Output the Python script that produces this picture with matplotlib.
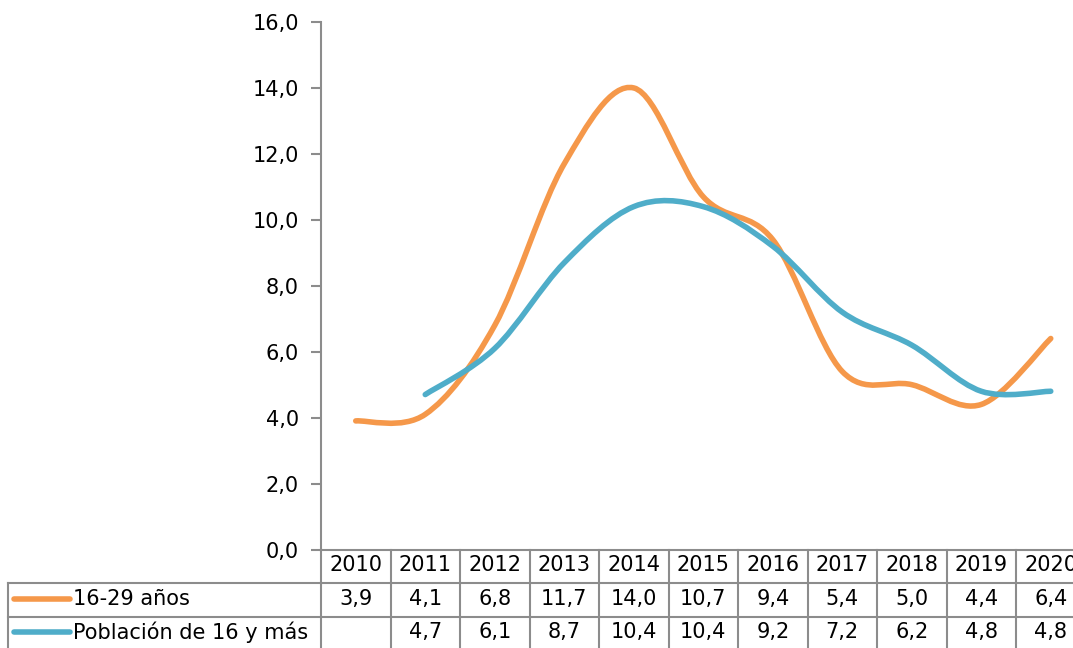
import matplotlib
matplotlib.use("Agg")
from matplotlib import pyplot as plt
from matplotlib.path import Path
from matplotlib.patches import PathPatch
from matplotlib.lines import Line2D
from matplotlib.ticker import FuncFormatter, MultipleLocator
from matplotlib.transforms import blended_transform_factory

years = ["2010", "2011", "2012", "2013", "2014", "2015", "2016", "2017", "2018", "2019", "2020"]
jovenes = [3.9, 4.1, 6.8, 11.7, 14.0, 10.7, 9.4, 5.4, 5.0, 4.4, 6.4]
poblacion = [None, 4.7, 6.1, 8.7, 10.4, 10.4, 9.2, 7.2, 6.2, 4.8, 4.8]
names = ["16-29 años", "Población de 16 y más"]
colors = ["#F5984A", "#4FADC9"]

W, H = 1073, 648
GRID = "#8C8C8C"
FS = 15


def px(x):
    return x / W


def py(y):
    return 1 - y / H


def comma(v, pos=None):
    return ("%.1f" % v).replace(".", ",")


def smooth_path(xs, ys):
    # curva suavizada tipo Excel (Catmull-Rom -> Bezier)
    pts = list(zip(xs, ys))
    verts = [pts[0]]
    codes = [Path.MOVETO]
    n = len(pts)
    for i in range(n - 1):
        p0 = pts[i - 1] if i > 0 else pts[i]
        p1 = pts[i]
        p2 = pts[i + 1]
        p3 = pts[i + 2] if i + 2 < n else pts[i + 1]
        c1 = (p1[0] + (p2[0] - p0[0]) / 6, p1[1] + (p2[1] - p0[1]) / 6)
        c2 = (p2[0] - (p3[0] - p1[0]) / 6, p2[1] - (p3[1] - p1[1]) / 6)
        verts += [c1, c2, p2]
        codes += [Path.CURVE4] * 3
    return Path(verts, codes)


fig = plt.figure(figsize=(W / 100, H / 100), dpi=100)
left, right, top, bottom = 321, 1085.5, 22, 549.5
ax = fig.add_axes([px(left), py(bottom), px(right - left), (bottom - top) / H])

for serie, color in zip([jovenes, poblacion], colors):
    xs = [i for i, v in enumerate(serie) if v is not None]
    ys = [v for v in serie if v is not None]
    patch = PathPatch(smooth_path(xs, ys), facecolor="none", edgecolor=color,
                      lw=4.0, capstyle="round", joinstyle="round")
    ax.add_patch(patch)

ax.set_xlim(-0.5, len(years) - 0.5)
ax.set_ylim(0, 16)
ax.yaxis.set_major_locator(MultipleLocator(2))
ax.yaxis.set_major_formatter(FuncFormatter(comma))
ax.set_xticks([])
for s in ["top", "right", "bottom"]:
    ax.spines[s].set_visible(False)
ax.spines["left"].set_color(GRID)
ax.spines["left"].set_linewidth(1.5)
ax.tick_params(axis="y", length=7, width=1.5, color=GRID, labelsize=FS, pad=9)
ax.patch.set_alpha(0)

# tabla de datos
tr = blended_transform_factory(ax.transData, fig.transFigure)
rows_y = [549.5, 582.5, 616.5, 648]
text_y = [565, 599, 632]

def hline(x0, x1, y, transform):
    fig.add_artist(Line2D([x0, x1], [py(y), py(y)], color=GRID, lw=1.5,
                          transform=transform, clip_on=False))

hline(-0.5, len(years) - 0.5, rows_y[0], tr)
for y in rows_y[1:3]:
    hline(px(8), px(left), y, fig.transFigure)
    hline(-0.5, len(years) - 0.5, y, tr)
for i in range(len(years) + 1):
    fig.add_artist(Line2D([i - 0.5, i - 0.5], [py(rows_y[0]), 0], color=GRID, lw=1.5,
                          transform=tr, clip_on=False))
fig.add_artist(Line2D([px(8), px(8)], [py(rows_y[1]), 0], color=GRID, lw=1.5,
                      transform=fig.transFigure, clip_on=False))

for i, yr in enumerate(years):
    fig.text(i, py(text_y[0]), yr, transform=tr, ha="center", va="center", fontsize=FS)
for r, serie in enumerate([jovenes, poblacion]):
    for i, v in enumerate(serie):
        if v is not None:
            fig.text(i, py(text_y[r + 1]), comma(v), transform=tr, ha="center",
                     va="center", fontsize=FS)
    fig.add_artist(Line2D([px(14), px(70)], [py(text_y[r + 1])] * 2, color=colors[r],
                          lw=4.0, solid_capstyle="round"))
    fig.text(px(73), py(text_y[r + 1]), names[r], ha="left", va="center", fontsize=FS)

fig.savefig("out.png", dpi=100)
